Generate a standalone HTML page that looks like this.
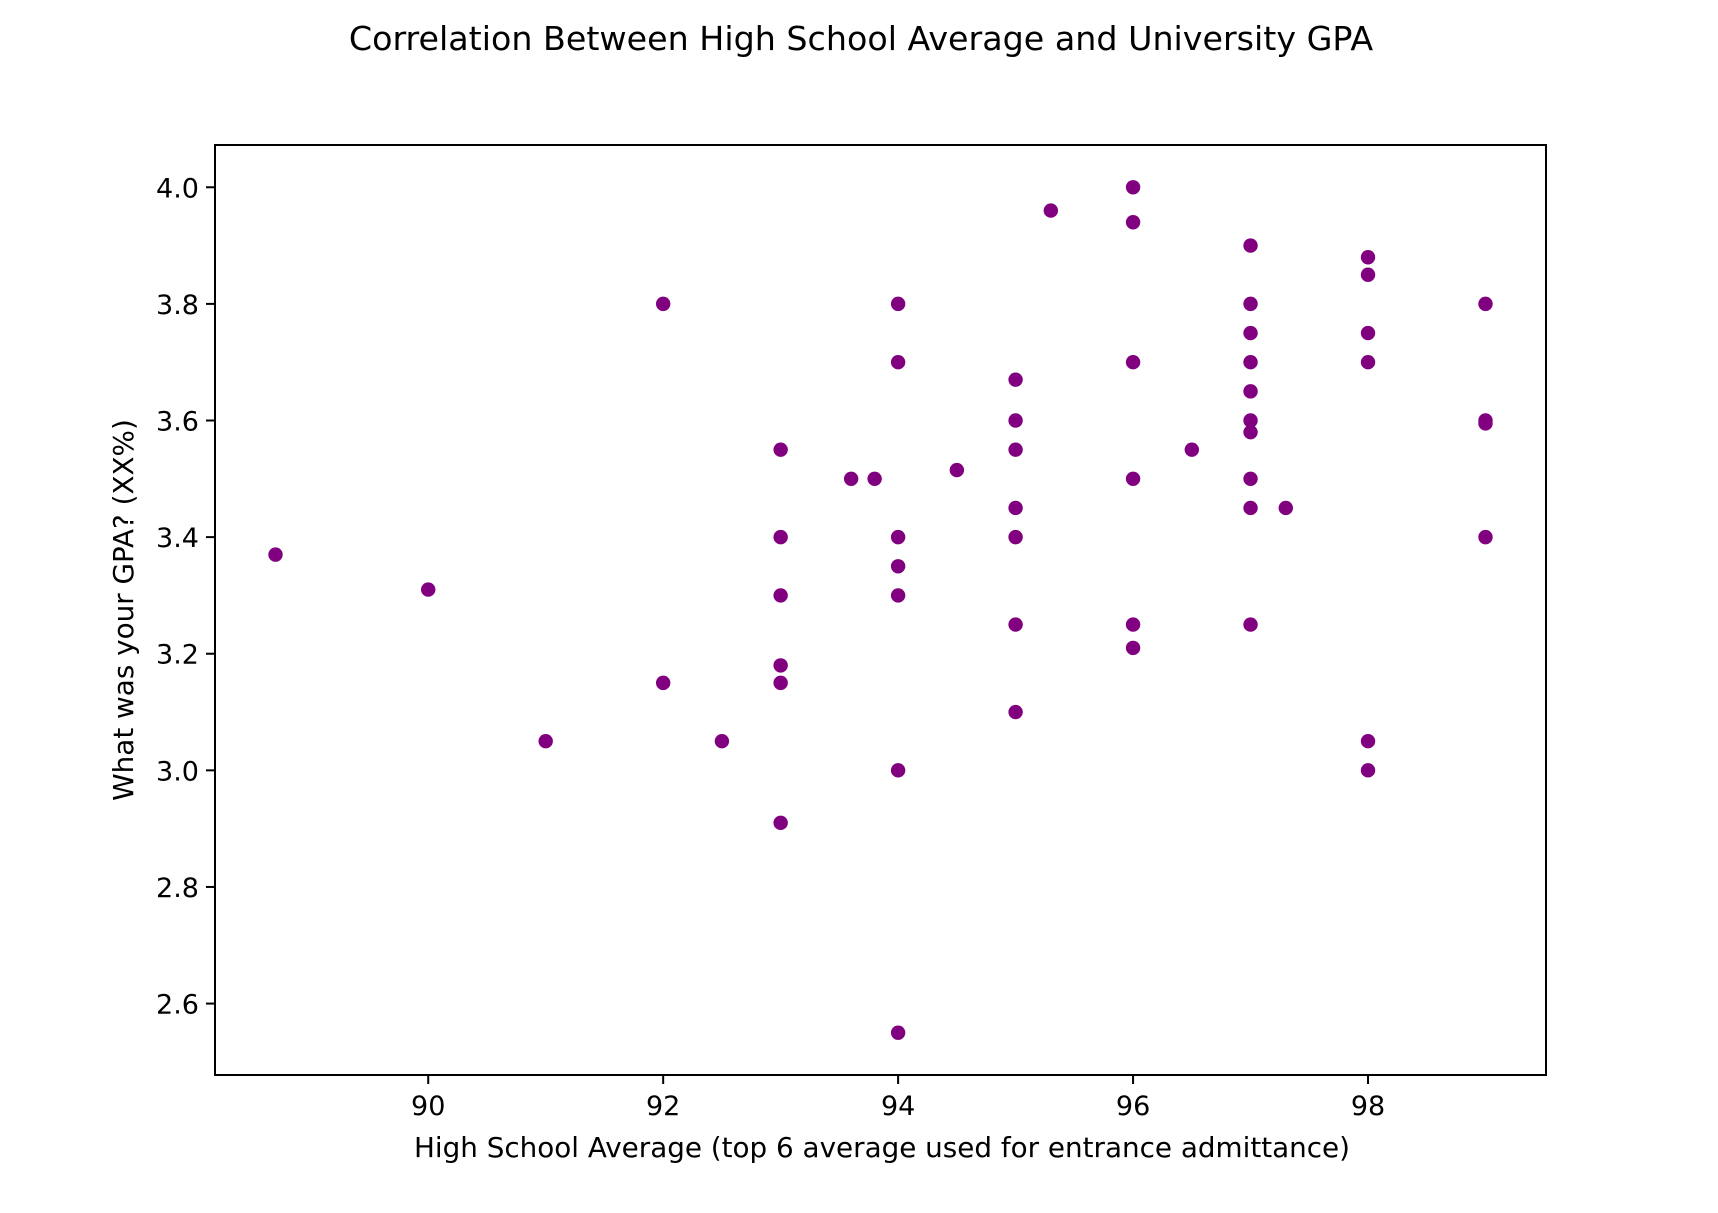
<!DOCTYPE html>
<html><head><meta charset="utf-8"><style>
body{margin:0;background:#fff}
svg text{font-family:"DejaVu Sans","Liberation Sans",sans-serif;fill:#000}
</style></head><body>
<svg width="1718" height="1208" viewBox="0 0 1718 1208" id="chart">
<rect width="1718" height="1208" fill="#fff"/>
<text x="861" y="50" font-size="33.3" text-anchor="middle">Correlation Between High School Average and University GPA</text>
<g id="marks"></g>
<g id="axes"></g>
<rect x="215" y="145" width="1331" height="930" fill="none" stroke="#000" stroke-width="2"/>
<text x="882" y="1157" font-size="27.8" text-anchor="middle">High School Average (top 6 average used for entrance admittance)</text>
<text transform="translate(133,610) rotate(-90)" font-size="27.8" text-anchor="middle">What was your GPA? (XX%)</text>
</svg>
<script>
const hsAverage=[88.7,90,91,92,92,92.5,93,93,93,93,93,93,93.6,93.8,94,94,94,94,94,94,94,94.5,95,95,95,95,95,95,95,95.3,96,96,96,96,96,96,96.5,97,97,97,97,97,97,97,97,97,97,97.3,98,98,98,98,98,98,99,99,99,99];
const gpa=[3.37,3.31,3.05,3.8,3.15,3.05,3.55,3.4,3.3,3.18,3.15,2.91,3.5,3.5,3.8,3.7,3.4,3.35,3.3,3.0,2.55,3.515,3.67,3.6,3.55,3.45,3.4,3.25,3.1,3.96,4.0,3.94,3.7,3.5,3.25,3.21,3.55,3.9,3.8,3.75,3.7,3.65,3.6,3.58,3.5,3.45,3.25,3.45,3.88,3.85,3.75,3.7,3.05,3.0,3.8,3.6,3.595,3.4];
const xTicks=[90,92,94,96,98];
const yTicks=[2.6,2.8,3.0,3.2,3.4,3.6,3.8,4.0];
const NS="http://www.w3.org/2000/svg";
const L=215,R=1546,T=145,B=1075;
const xmin=Math.min(...hsAverage),xmax=Math.max(...hsAverage),ymin=Math.min(...gpa),ymax=Math.max(...gpa);
const xpad=(xmax-xmin)*0.05,ypad=(ymax-ymin)*0.05;
const x0=xmin-xpad,x1=xmax+xpad,y0=ymin-ypad,y1=ymax+ypad;
const sx=v=>L+(v-x0)/(x1-x0)*(R-L);
const sy=v=>B-(v-y0)/(y1-y0)*(B-T);
const marks=document.getElementById('marks'),axes=document.getElementById('axes');
function mk(t,a){const e=document.createElementNS(NS,t);for(const k in a)e.setAttribute(k,a[k]);return e;}
hsAverage.forEach((v,i)=>{
 const c=mk('circle',{cx:sx(v),cy:sy(gpa[i]),r:7.2,fill:'#800080'});
 
 
 marks.appendChild(c);
});
xTicks.forEach(t=>{
 const l=mk('line',{x1:sx(t),x2:sx(t),y1:B,y2:B+9,stroke:'#000','stroke-width':2});
 
 
 axes.appendChild(l);
 const tx=mk('text',{x:sx(t),y:B+40,'font-size':27,'text-anchor':'middle'});
 tx.textContent=t;
 
 
 axes.appendChild(tx);
});
yTicks.forEach(t=>{
 const l=mk('line',{x1:L-9,x2:L,y1:sy(t),y2:sy(t),stroke:'#000','stroke-width':2});
 
 
 axes.appendChild(l);
 const tx=mk('text',{x:L-16,y:sy(t)+10,'font-size':27,'text-anchor':'end'});
 tx.textContent=t.toFixed(1);
 
 
 axes.appendChild(tx);
});
</script>
</body></html>
